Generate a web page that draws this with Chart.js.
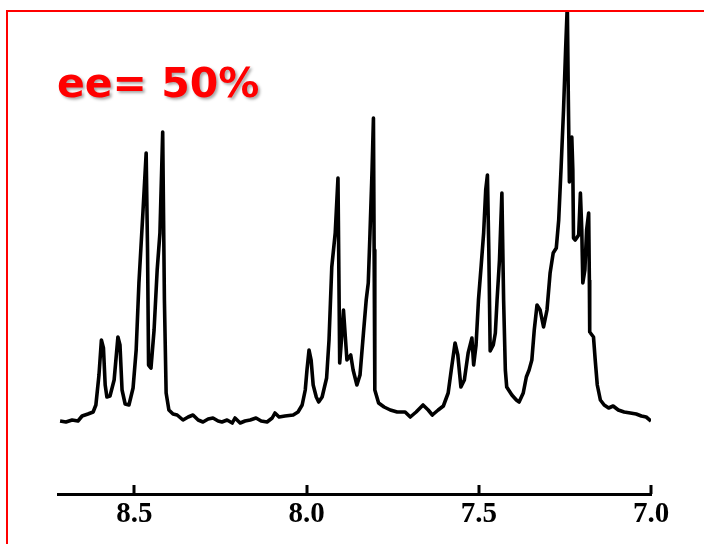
<!DOCTYPE html>
<html>
<head>
<meta charset="utf-8">
<script src="https://cdn.jsdelivr.net/npm/chart.js@4"></script>
<style>
  html, body { margin: 0; padding: 0; background: #ffffff; }
  #wrap { width: 704px; height: 544px; position: relative; }
</style>
</head>
<body>
<div id="wrap"><canvas id="c" width="704" height="544"></canvas></div>
<script>
// Chemical shift (ppm) of each traced point of the spectrum
const shifts = [
  8.716, 8.699, 8.681, 8.664, 8.652, 8.635, 8.620, 8.612, 8.603, 8.596,
  8.590, 8.585, 8.580, 8.571, 8.559, 8.548, 8.542, 8.536, 8.527, 8.516,
  8.504, 8.495, 8.487, 8.475, 8.466, 8.462, 8.459, 8.452, 8.443, 8.434,
  8.426, 8.418, 8.413, 8.408, 8.400, 8.388, 8.376, 8.359, 8.344, 8.330,
  8.315, 8.301, 8.286, 8.272, 8.257, 8.246, 8.231, 8.216, 8.208, 8.193,
  8.179, 8.164, 8.147, 8.132, 8.115, 8.100, 8.092, 8.080, 8.063, 8.039,
  8.025, 8.013, 8.004, 7.999, 7.993, 7.987, 7.981, 7.972, 7.965, 7.955,
  7.942, 7.935, 7.927, 7.917, 7.909, 7.907, 7.904, 7.900, 7.893, 7.888,
  7.883, 7.872, 7.865, 7.854, 7.845, 7.835, 7.827, 7.821, 7.816, 7.810,
  7.806, 7.804, 7.802, 7.791, 7.775, 7.757, 7.737, 7.714, 7.699, 7.682,
  7.662, 7.647, 7.635, 7.618, 7.603, 7.589, 7.580, 7.569, 7.561, 7.552,
  7.542, 7.531, 7.520, 7.515, 7.508, 7.501, 7.493, 7.486, 7.480, 7.475,
  7.471, 7.467, 7.458, 7.452, 7.447, 7.440, 7.433, 7.428, 7.423, 7.419,
  7.404, 7.391, 7.383, 7.371, 7.362, 7.354, 7.346, 7.339, 7.331, 7.322,
  7.312, 7.302, 7.293, 7.284, 7.275, 7.268, 7.261, 7.254, 7.248, 7.243,
  7.240, 7.237, 7.233, 7.230, 7.227, 7.225, 7.220, 7.210, 7.205, 7.201,
  7.198, 7.192, 7.187, 7.181, 7.179, 7.178, 7.167, 7.162, 7.156, 7.147,
  7.136, 7.123, 7.110, 7.095, 7.078, 7.060, 7.043, 7.028, 7.014, 7.000
];
// Signal intensity (arbitrary units) at each shift
const intensity = [
  -1, -2, 0, -1, 4, 6, 8, 15, 45, 80,
  72, 35, 23, 24, 40, 83, 75, 30, 16, 15,
  32, 70, 137, 210, 267, 170, 55, 52, 90, 150,
  187, 288, 120, 27, 10, 6, 5, 0, 3, 5,
  0, -2, 1, 2, -1, -2, 0, -3, 2, -3,
  -1, 0, 2, -1, -2, 2, 7, 3, 4, 5,
  8, 15, 30, 50, 70, 60, 35, 23, 18, 23,
  42, 80, 153, 187, 242, 170, 57, 75, 110, 85,
  60, 65, 50, 35, 45, 87, 120, 137, 187, 250,
  302, 170, 30, 17, 13, 10, 8, 8, 3, 8,
  15, 10, 5, 10, 14, 27, 50, 77, 65, 33,
  40, 67, 82, 55, 75, 120, 155, 187, 230, 245,
  170, 69, 75, 87, 120, 160, 227, 120, 50, 33,
  25, 20, 18, 27, 43, 50, 60, 90, 115, 110,
  93, 110, 147, 167, 172, 200, 253, 310, 370, 415,
  320, 238, 270, 283, 250, 182, 180, 185, 227, 190,
  137, 150, 190, 207, 140, 88, 83, 60, 35, 20,
  15, 12, 14, 10, 8, 7, 6, 4, 3, -1
];
// Axis tick values and labels
const tickValues = [8.5, 8.0, 7.5, 7.0];
const tickLabels = ['8.5', '8.0', '7.5', '7.0'];
const titleText = 'ee= 50%';

const points = shifts.map((s, i) => ({ x: s, y: intensity[i] }));

const decorPlugin = {
  id: 'decor',
  afterDraw(chart) {
    const ctx = chart.ctx;
    const xs = chart.scales.x;
    const bottom = chart.chartArea.bottom;
    ctx.save();
    // inward tick marks
    ctx.strokeStyle = '#000';
    ctx.lineWidth = 3;
    tickValues.forEach(v => {
      const px = Math.round(xs.getPixelForValue(v));
      ctx.beginPath();
      ctx.moveTo(px, bottom);
      ctx.lineTo(px, bottom - 9);
      ctx.stroke();
    });
    // red frame
    ctx.strokeStyle = '#ff0000';
    ctx.lineWidth = 2;
    ctx.strokeRect(7, 11, 760, 600);
    // title text with shadow
    ctx.font = 'bold 41px "DejaVu Sans"';
    ctx.fillStyle = '#ff0000';
    ctx.textBaseline = 'alphabetic';
    ctx.shadowColor = 'rgba(0,0,0,0.35)';
    ctx.shadowOffsetX = 2;
    ctx.shadowOffsetY = 2;
    ctx.shadowBlur = 3;
    ctx.fillText(titleText, 57, 97);
    ctx.restore();
  }
};

new Chart(document.getElementById('c'), {
  type: 'line',
  data: {
    datasets: [{
      data: points,
      borderColor: '#000000',
      borderWidth: 3.6,
      borderJoinStyle: 'round',
      pointRadius: 0,
      tension: 0,
      fill: false
    }]
  },
  options: {
    responsive: false,
    animation: false,
    layout: { padding: { left: 58, right: 53, top: 11, bottom: 0 } },
    plugins: { legend: { display: false }, tooltip: { enabled: false } },
    scales: {
      x: {
        type: 'linear',
        reverse: true,
        min: 7.0,
        max: 8.722,
        afterBuildTicks: (scale) => { scale.ticks = tickValues.map(v => ({ value: v })); },
        afterFit: (scale) => { scale.height = 50; },
        ticks: {
          autoSkip: false,
          maxRotation: 0,
          padding: 3,
          color: '#000',
          font: { family: '"Liberation Serif"', size: 29, weight: 'bold' },
          callback: (v) => tickLabels[tickValues.indexOf(v)] ?? ''
        },
        grid: { display: true, drawOnChartArea: false, drawTicks: false },
        border: { display: true, color: '#000', width: 3 }
      },
      y: {
        display: false,
        min: -74,
        max: 409
      }
    }
  },
  plugins: [decorPlugin]
});
</script>
</body>
</html>
